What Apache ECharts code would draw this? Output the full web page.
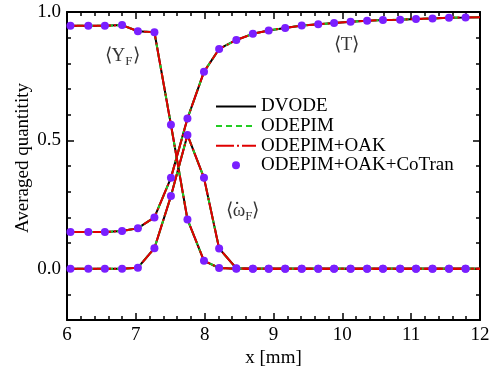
<!DOCTYPE html>
<html>
<head>
<meta charset="utf-8">
<script src="https://cdn.jsdelivr.net/npm/echarts@6/dist/echarts.min.js"></script>
<style>
  html, body { margin: 0; padding: 0; background: #fff; }
  #chart { width: 500px; height: 373px; }
</style>
</head>
<body>
<div id="chart"></div>
<script>
// marker positions (mm) and averaged quantities
const xs = [6.05, 6.31, 6.55, 6.80, 7.03, 7.27, 7.51, 7.75, 7.99, 8.21, 8.46, 8.70, 8.93,
  9.17, 9.41, 9.65, 9.88, 10.12, 10.36, 10.59, 10.84, 11.07, 11.31, 11.55, 11.79];
const fuel = [0.946, 0.946, 0.946, 0.949, 0.925, 0.921, 0.561, 0.192, 0.031, 0.003, 0, 0, 0,
  0, 0, 0, 0, 0, 0, 0, 0, 0, 0, 0, 0];
const temp = [0.143, 0.143, 0.143, 0.147, 0.158, 0.200, 0.354, 0.585, 0.767, 0.856, 0.891, 0.915, 0.928,
  0.938, 0.947, 0.952, 0.957, 0.962, 0.966, 0.969, 0.970, 0.973, 0.975, 0.978, 0.979];
const omega = [0, 0, 0, 0, 0.004, 0.080, 0.283, 0.521, 0.354, 0.079, 0.002, 0, 0,
  0, 0, 0, 0, 0, 0, 0, 0, 0, 0, 0, 0];

// line ends at the plot edges
const edgeX = [6.0, 12.0];
const fuelEdge = [0.946, 0];
const tempEdge = [0.143, 0.980];
const omegaEdge = [0, 0];

const methods = ['DVODE', 'ODEPIM', 'ODEPIM+OAK', 'ODEPIM+OAK+CoTran'];
const yLabels = [0, 0.5, 1.0];

// curve labels: [text, x, y]
const notes = [
  ['⟨Y{s|F}⟩', 6.80, 0.827],
  ['⟨T⟩', 10.06, 0.872],
  ['{d|.}\n⟨ω{s|F}⟩', 8.55, 0.232]
];

const FONT = 'Liberation Serif';

function linePts(vals, edge) {
  const pts = [[edgeX[0], edge[0]]];
  xs.forEach((x, i) => pts.push([x, vals[i]]));
  pts.push([edgeX[1], edge[1]]);
  return pts;
}
function markPts(vals) {
  return xs.map((x, i) => [x, vals[i]]);
}

const curves = [[fuel, fuelEdge], [temp, tempEdge], [omega, omegaEdge]];
const lineStyles = [
  { color: '#000000', width: 2, type: 'solid' },
  { color: '#22cc22', width: 2, type: [6, 4] },
  { color: '#e00000', width: 2, type: [18, 3, 2, 3] }
];

const series = [];
lineStyles.forEach((ls, k) => {
  curves.forEach(c => {
    series.push({
      name: methods[k],
      type: 'line',
      data: linePts(c[0], c[1]),
      symbol: 'none',
      lineStyle: ls,
      itemStyle: { color: ls.color },
      animation: false,
      z: 2 + k
    });
  });
});
curves.forEach(c => {
  series.push({
    name: methods[3],
    type: 'scatter',
    data: markPts(c[0]),
    symbol: 'circle',
    symbolSize: 8,
    itemStyle: { color: '#7a1fff', opacity: 1 },
    animation: false,
    z: 6
  });
});
series.push({
  name: 'notes',
  type: 'scatter',
  symbolSize: 0,
  silent: true,
  animation: false,
  data: notes.map(n => ({ value: [n[1], n[2]], label: { formatter: n[0] } })),
  label: {
    show: true,
    position: 'inside',
    fontFamily: FONT,
    fontSize: 19,
    lineHeight: 20,
    color: '#000',
    rich: {
      s: { fontFamily: FONT, fontSize: 13, padding: [10, 0, 0, 0] },
      d: { fontFamily: FONT, fontSize: 19, lineHeight: 4, padding: [0, 11, 0, 0] }
    }
  },
  z: 7
});

const axisLine = { show: true, onZero: false, lineStyle: { color: '#000', width: 2 } };
const tickLine = { color: '#000', width: 1.5 };

const option = {
  backgroundColor: '#fff',
  animation: false,
  grid: { left: 67, right: 20, top: 12, bottom: 50 },
  legend: {
    data: [
      { name: methods[0], itemStyle: { opacity: 0 } },
      { name: methods[1], itemStyle: { opacity: 0 } },
      { name: methods[2], itemStyle: { opacity: 0 } },
      { name: methods[3] }
    ],
    orient: 'vertical',
    left: 215,
    top: 97,
    padding: 0,
    itemWidth: 40,
    itemHeight: 8,
    itemGap: 0.6,
    textStyle: { fontFamily: FONT, fontSize: 19, color: '#000' }
  },
  xAxis: [
    {
      type: 'value', min: 6, max: 12, interval: 1, position: 'bottom',
      axisLine: axisLine,
      axisTick: { inside: true, length: 7, lineStyle: tickLine },
      minorTick: { show: true, splitNumber: 5, length: 4, lineStyle: tickLine },
      splitLine: { show: false },
      axisLabel: { fontFamily: FONT, fontSize: 19, color: '#000', margin: 5 },
      name: 'x [mm]', nameLocation: 'middle', nameGap: 26,
      nameTextStyle: { fontFamily: FONT, fontSize: 19, color: '#000' }
    },
    {
      type: 'value', min: 6, max: 12, interval: 1, position: 'top',
      axisLine: axisLine,
      axisTick: { inside: true, length: 7, lineStyle: tickLine },
      minorTick: { show: true, splitNumber: 5, length: 4, lineStyle: tickLine },
      splitLine: { show: false },
      axisLabel: { show: false }
    }
  ],
  yAxis: [
    {
      type: 'value', min: -0.2, max: 1.0, interval: 0.1, position: 'left',
      axisLine: axisLine,
      axisTick: { inside: true, length: 4, lineStyle: tickLine },
      splitLine: { show: false },
      axisLabel: { show: false }
    },
    {
      type: 'value', min: -0.2, max: 1.0, position: 'left',
      axisLine: { show: false, onZero: false },
      axisTick: { inside: true, length: 7, customValues: yLabels, lineStyle: tickLine },
      splitLine: { show: false },
      axisLabel: {
        customValues: yLabels, formatter: v => v.toFixed(1),
        fontFamily: FONT, fontSize: 19, color: '#000', margin: 6
      },
      name: 'Averaged quantitity', nameLocation: 'middle', nameGap: 34,
      nameMoveOverlap: false,
      nameTextStyle: { fontFamily: FONT, fontSize: 19, color: '#000', padding: [0, 0, 0, 16] }
    },
    {
      type: 'value', min: -0.2, max: 1.0, interval: 0.1, position: 'right',
      axisLine: axisLine,
      axisTick: { inside: true, length: 4, lineStyle: tickLine },
      splitLine: { show: false },
      axisLabel: { show: false }
    },
    {
      type: 'value', min: -0.2, max: 1.0, position: 'right',
      axisLine: { show: false, onZero: false },
      axisTick: { inside: true, length: 7, customValues: yLabels, lineStyle: tickLine },
      splitLine: { show: false },
      axisLabel: { show: false }
    }
  ],
  series: series
};

const chart = echarts.init(document.getElementById('chart'), null, { renderer: 'canvas' });
chart.setOption(option);
</script>
</body>
</html>
